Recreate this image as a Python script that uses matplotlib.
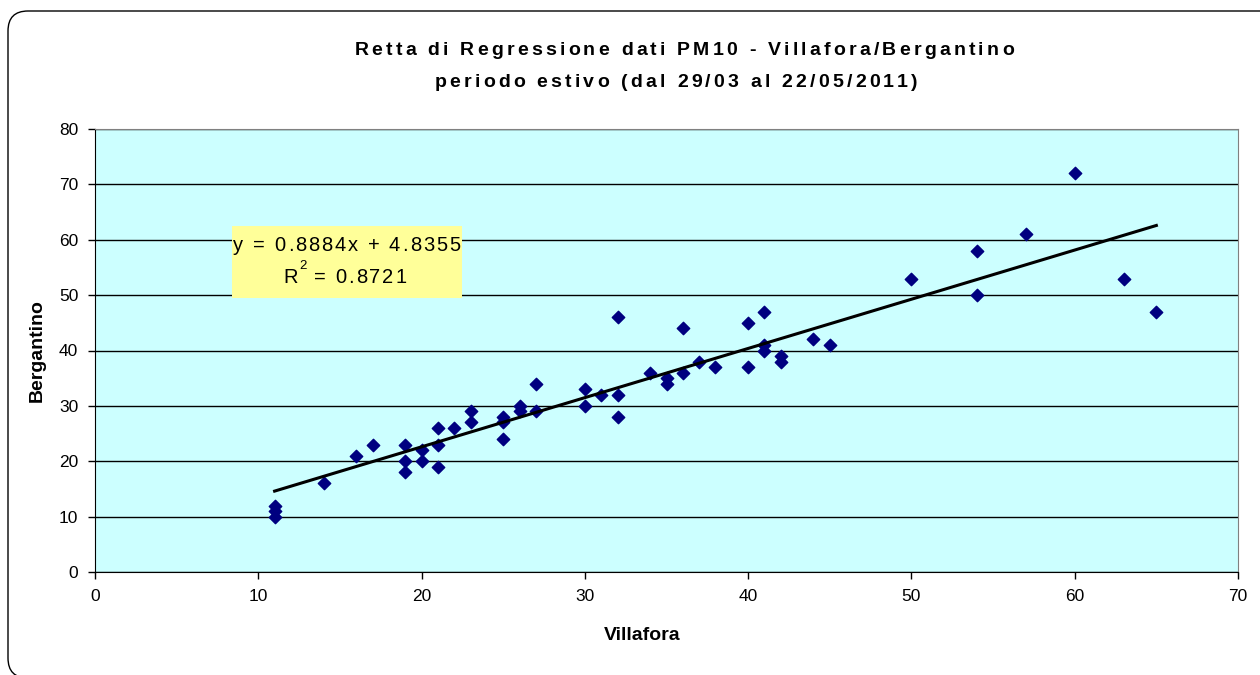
import matplotlib
matplotlib.use("Agg")
import matplotlib.pyplot as plt
from matplotlib.patches import FancyBboxPatch, Rectangle
from matplotlib.font_manager import FontProperties, findfont, get_font
import numpy as np

plt.rcParams['font.family'] = ['Liberation Sans', 'DejaVu Sans']

villafora = [11, 11, 11, 14, 16, 17, 19, 19, 19, 20, 20, 21, 21, 21, 22, 23, 23,
             25, 25, 25, 26, 26, 27, 27, 30, 30, 31, 32, 32, 32, 34, 35, 35, 36,
             36, 37, 38, 40, 40, 41, 41, 41, 42, 42, 44, 45, 50, 54, 54, 57, 60,
             63, 65]
bergantino = [10, 11, 12, 16, 21, 23, 18, 20, 23, 20, 22, 19, 23, 26, 26, 27, 29,
              24, 27, 28, 29, 30, 29, 34, 30, 33, 32, 28, 32, 46, 36, 34, 35, 36,
              44, 38, 37, 37, 45, 40, 41, 47, 38, 39, 42, 41, 53, 50, 58, 61, 72,
              53, 47]
slope, intercept, r2 = 0.8884, 4.8355, 0.8721
title1 = "Retta di Regressione dati PM10 - Villafora/Bergantino"
title2 = "periodo estivo (dal 29/03 al 22/05/2011)"

W, H = 1260, 675
fig = plt.figure(figsize=(W / 100, H / 100), dpi=100)


def advances(s, size, weight):
    font = get_font(findfont(FontProperties(family="Liberation Sans", weight=weight)))
    font.set_size(size, 100)
    return [font.load_char(ord(c)).linearHoriAdvance / 65536 for c in s]


def text_width(s, size, weight="normal", track=0):
    adv = advances(s, size, weight)
    return sum(adv) + track * (len(s) - 1)


def tracked(x, y, s, size, weight="normal", track=0):
    # draw letter by letter (excel-like letter spacing), x/y in pixels, y = baseline
    for c, a in zip(s, advances(s, size, weight)):
        if c != " ":
            fig.text(x / W, 1 - y / H, c, fontsize=size, fontweight=weight,
                     ha="left", va="baseline")
        x += a + track
    return x


# rounded border around the chart (pixel coords)
fig.patches.append(FancyBboxPatch((8, -3), 1300, H - 11 + 3,
                                  boxstyle="round,pad=0,rounding_size=20",
                                  transform=None, fc="white", ec="black",
                                  lw=1, zorder=-1))

ax = fig.add_axes([95 / W, 1 - 572 / H, (1238 - 95) / W, (572 - 129) / H])
ax.set_facecolor("#CCFFFF")

ax.scatter(villafora, bergantino, marker="D", s=40, color="#000080", zorder=3)
xs = np.array([min(villafora), max(villafora)])
ax.plot(xs, slope * xs + intercept, color="black", lw=2.2, zorder=4)

ax.set_xlim(0, 70)
ax.set_ylim(0, 80)
ax.set_xticks(range(0, 71, 10))
ax.set_yticks(range(0, 81, 10))
ax.yaxis.grid(True, color="black", lw=1)
ax.set_axisbelow(True)
for s in ax.spines.values():
    s.set_color("#808080")
ax.spines["left"].set_color("black")
ax.spines["bottom"].set_color("black")
ax.tick_params(direction="out", length=5, width=1, labelsize=12.5, colors="black", pad=7)

fig.text(642 / W, 1 - 636 / H, "Villafora", fontsize=14, fontweight="bold",
         ha="center", va="center")
fig.text(37 / W, 1 - 351 / H, "Bergantino", fontsize=14, fontweight="bold",
         ha="center", va="center", rotation=90)

# title
tsize, ttrack = 14, 3.2
tracked(684 - text_width(title1, tsize, "bold", ttrack) / 2, 55, title1, tsize, "bold", ttrack)
tracked(676 - text_width(title2, tsize, "bold", ttrack) / 2, 87, title2, tsize, "bold", ttrack)

# equation box
ax.add_patch(Rectangle((0.1199, 0.6185), 0.2012, 0.1625, transform=ax.transAxes,
                       fc="#FFFF99", ec="none", zorder=5))
esize, etrack = 14.5, 2.0
eq1 = "y = %.4fx + %.4f" % (slope, intercept)
tracked(347 - text_width(eq1, esize, track=etrack) / 2, 251, eq1, esize, track=etrack)
eq2 = " = %.4f" % r2
w2 = text_width("R", esize) + 1 + text_width("2", 9.5) + text_width(eq2, esize, track=etrack)
x = tracked(345 - w2 / 2, 283, "R", esize)
x = tracked(x + 1, 269, "2", 9.5)
tracked(x, 283, eq2, esize, track=etrack)

fig.savefig("out.png", dpi=100)
